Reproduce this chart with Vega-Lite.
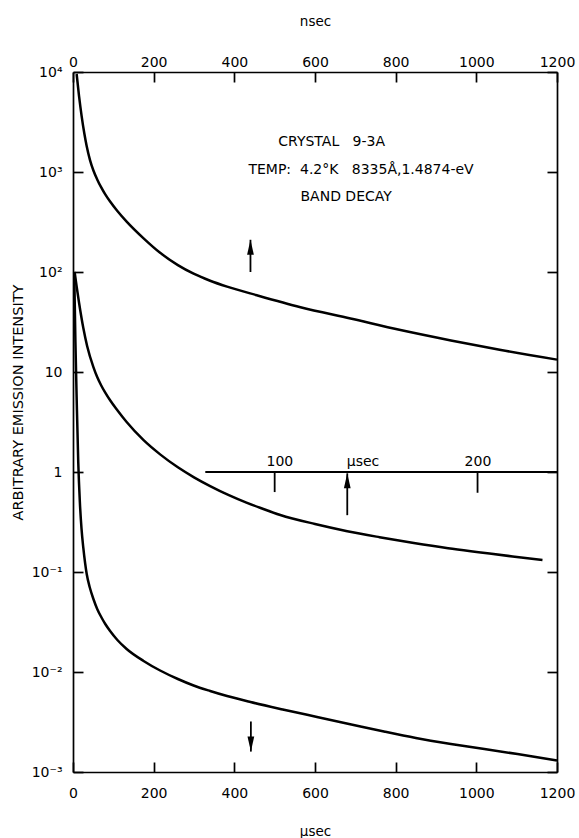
{
  "$schema": "https://vega.github.io/schema/vega-lite/v6.json",
  "autosize": {"type": "none"},
  "padding": {"left": 73, "top": 72, "right": 22, "bottom": 66},
  "width": 484,
  "height": 700,
  "background": "white",
  "config": {
    "view": {"stroke": null},
    "axis": {
      "grid": false,
      "labelFlush": false,
      "labelOverlap": false,
      "domainColor": "black",
      "domainWidth": 1.7,
      "tickColor": "black",
      "tickWidth": 1.7,
      "labelColor": "black",
      "titleColor": "black",
      "labelFont": "DejaVu Sans",
      "titleFont": "DejaVu Sans",
      "labelFontSize": 14,
      "titleFontSize": 13.5,
      "titleFontWeight": "normal"
    },
    "text": {"font": "DejaVu Sans", "fontSize": 14, "color": "black"}
  },
  "datasets": {
    "curves": [
      {"c": "A", "t": 9, "v": 9550}, {"c": "A", "t": 15, "v": 5730}, {"c": "A", "t": 21.5, "v": 3600},
      {"c": "A", "t": 28, "v": 2440}, {"c": "A", "t": 34, "v": 1810}, {"c": "A", "t": 42, "v": 1324},
      {"c": "A", "t": 50.6, "v": 1035}, {"c": "A", "t": 60, "v": 843}, {"c": "A", "t": 70, "v": 701},
      {"c": "A", "t": 80, "v": 597}, {"c": "A", "t": 92, "v": 506}, {"c": "A", "t": 110, "v": 407},
      {"c": "A", "t": 133, "v": 319}, {"c": "A", "t": 175, "v": 217}, {"c": "A", "t": 216, "v": 155.6},
      {"c": "A", "t": 260, "v": 117.2}, {"c": "A", "t": 299, "v": 96.2}, {"c": "A", "t": 340, "v": 81.8},
      {"c": "A", "t": 382, "v": 71.4}, {"c": "A", "t": 456, "v": 58.5}, {"c": "A", "t": 564, "v": 44.5},
      {"c": "A", "t": 688, "v": 34.3}, {"c": "A", "t": 812, "v": 26.3}, {"c": "A", "t": 937, "v": 20.7},
      {"c": "A", "t": 1061, "v": 16.6}, {"c": "A", "t": 1200, "v": 13.3},
      {"c": "B", "t": 4, "v": 100}, {"c": "B", "t": 9, "v": 71.6}, {"c": "B", "t": 15, "v": 49.3},
      {"c": "B", "t": 25.6, "v": 27.5}, {"c": "B", "t": 35, "v": 18.2}, {"c": "B", "t": 50.6, "v": 11.2},
      {"c": "B", "t": 60, "v": 8.91}, {"c": "B", "t": 70, "v": 7.33}, {"c": "B", "t": 80, "v": 6.21},
      {"c": "B", "t": 92, "v": 5.21}, {"c": "B", "t": 110, "v": 4.14}, {"c": "B", "t": 133, "v": 3.16},
      {"c": "B", "t": 175, "v": 2.08}, {"c": "B", "t": 216, "v": 1.5}, {"c": "B", "t": 260, "v": 1.114},
      {"c": "B", "t": 300, "v": 0.885}, {"c": "B", "t": 340, "v": 0.723}, {"c": "B", "t": 385, "v": 0.59},
      {"c": "B", "t": 430, "v": 0.494}, {"c": "B", "t": 465, "v": 0.437}, {"c": "B", "t": 514, "v": 0.372},
      {"c": "B", "t": 600, "v": 0.302}, {"c": "B", "t": 680, "v": 0.256}, {"c": "B", "t": 760, "v": 0.223},
      {"c": "B", "t": 845, "v": 0.195}, {"c": "B", "t": 930, "v": 0.173}, {"c": "B", "t": 1011, "v": 0.157},
      {"c": "B", "t": 1090, "v": 0.143}, {"c": "B", "t": 1164, "v": 0.132},
      {"c": "C", "t": 3, "v": 100}, {"c": "C", "t": 6, "v": 20}, {"c": "C", "t": 9, "v": 5.62},
      {"c": "C", "t": 13, "v": 1.26}, {"c": "C", "t": 17, "v": 0.501}, {"c": "C", "t": 21, "v": 0.275},
      {"c": "C", "t": 25.6, "v": 0.174}, {"c": "C", "t": 30, "v": 0.123}, {"c": "C", "t": 34, "v": 0.0955},
      {"c": "C", "t": 42, "v": 0.0692}, {"c": "C", "t": 50.6, "v": 0.0537}, {"c": "C", "t": 60, "v": 0.0427},
      {"c": "C", "t": 70, "v": 0.0355}, {"c": "C", "t": 80, "v": 0.0302}, {"c": "C", "t": 92, "v": 0.0257},
      {"c": "C", "t": 110, "v": 0.0209}, {"c": "C", "t": 133, "v": 0.017}, {"c": "C", "t": 175, "v": 0.0129},
      {"c": "C", "t": 216, "v": 0.01035}, {"c": "C", "t": 260, "v": 0.00851}, {"c": "C", "t": 299, "v": 0.00733},
      {"c": "C", "t": 340, "v": 0.00646}, {"c": "C", "t": 382, "v": 0.00575}, {"c": "C", "t": 440, "v": 0.00501},
      {"c": "C", "t": 520, "v": 0.00422}, {"c": "C", "t": 605, "v": 0.00355}, {"c": "C", "t": 690, "v": 0.00299},
      {"c": "C", "t": 771, "v": 0.00254}, {"c": "C", "t": 850, "v": 0.00219}, {"c": "C", "t": 937, "v": 0.00191},
      {"c": "C", "t": 1020, "v": 0.0017}, {"c": "C", "t": 1102, "v": 0.00151}, {"c": "C", "t": 1200, "v": 0.0013}
    ],
    "inset": [{"x1": 328, "x2": 1200, "y": 1}],
    "insetTicks": [{"x": 500, "y": 1, "y2": 0.63}, {"x": 1003, "y": 1, "y2": 0.62}],
    "insetLabels": [
      {"x": 513, "y": 1, "label": "100"},
      {"x": 719, "y": 1, "label": "μsec"},
      {"x": 1004, "y": 1, "label": "200"}
    ],
    "arrows": [
      {"x": 440, "y1": 100, "y2": 210, "dir": "up"},
      {"x": 680, "y1": 0.37, "y2": 0.97, "dir": "up"},
      {"x": 441, "y1": 0.0032, "y2": 0.0016, "dir": "down"}
    ],
    "notes": [
      {"x": 509, "y": 2000, "label": "CRYSTAL\u00a0\u00a0 9-3A"},
      {"x": 435, "y": 1050, "label": "TEMP:\u00a0 4.2°K\u00a0\u00a0 8335Å,1.4874-eV"},
      {"x": 564, "y": 560, "label": "BAND DECAY"}
    ]
  },
  "resolve": {"axis": {"x": "independent", "y": "independent"}},
  "layer": [
    {
      "data": {"name": "curves"},
      "mark": {"type": "line", "color": "black", "strokeWidth": 2.5, "interpolate": "monotone"},
      "encoding": {
        "x": {
          "field": "t", "type": "quantitative",
          "scale": {"domain": [0, 1200], "nice": false, "zero": false},
          "axis": {
            "orient": "bottom", "values": [0, 200, 400, 600, 800, 1000, 1200], "format": "d",
            "tickSize": -10, "labelPadding": 24, "title": "μsec", "titlePadding": 24
          }
        },
        "y": {
          "field": "v", "type": "quantitative",
          "scale": {"type": "log", "domain": [0.001, 10000], "nice": false},
          "axis": {
            "orient": "left",
            "values": [0.001, 0.01, 0.1, 1, 10, 100, 1000, 10000],
            "labelExpr": "datum.value > 5000 ? '10⁴' : datum.value > 500 ? '10³' : datum.value > 50 ? '10²' : datum.value > 5 ? '10' : datum.value > 0.5 ? '1' : datum.value > 0.05 ? '10⁻¹' : datum.value > 0.005 ? '10⁻²' : '10⁻³'",
            "tickSize": -10, "labelPadding": 21,
            "title": "ARBITRARY EMISSION INTENSITY",
            "titleFontSize": 14.5,
            "titleX": -55, "titleY": 330, "titleBaseline": "middle"
          }
        },
        "detail": {"field": "c"}
      }
    },
    {
      "data": {"name": "inset"},
      "mark": {"type": "rule", "color": "black", "strokeWidth": 1.8},
      "encoding": {
        "x": {
          "field": "x1", "type": "quantitative",
          "axis": {
            "orient": "top", "values": [0, 200, 400, 600, 800, 1000, 1200], "format": "d",
            "tickSize": -10, "labelPadding": 13, "title": "nsec", "titlePadding": 27
          }
        },
        "x2": {"field": "x2"},
        "y": {
          "field": "y", "type": "quantitative",
          "axis": {
            "orient": "right",
            "values": [0.001, 0.01, 0.1, 1, 10, 100, 1000, 10000],
            "labels": false, "tickSize": -10, "title": null
          }
        }
      }
    },
    {
      "data": {"name": "insetTicks"},
      "mark": {"type": "rule", "color": "black", "strokeWidth": 1.8},
      "encoding": {
        "x": {"field": "x", "type": "quantitative", "axis": null},
        "y": {"field": "y", "type": "quantitative", "axis": null},
        "y2": {"field": "y2"}
      }
    },
    {
      "data": {"name": "insetLabels"},
      "mark": {"type": "text", "baseline": "bottom", "dy": -3, "fontSize": 14},
      "encoding": {
        "x": {"field": "x", "type": "quantitative", "axis": null},
        "y": {"field": "y", "type": "quantitative", "axis": null},
        "text": {"field": "label"}
      }
    },
    {
      "data": {"name": "arrows"},
      "mark": {"type": "rule", "color": "black", "strokeWidth": 1.8},
      "encoding": {
        "x": {"field": "x", "type": "quantitative", "axis": null},
        "y": {"field": "y1", "type": "quantitative", "axis": null},
        "y2": {"field": "y2"}
      }
    },
    {
      "data": {"name": "arrows"},
      "mark": {"type": "point", "filled": true, "color": "black", "opacity": 1, "size": 225},
      "encoding": {
        "x": {"field": "x", "type": "quantitative", "axis": null},
        "y": {"field": "y2", "type": "quantitative", "axis": null},
        "shape": {
          "field": "dir", "type": "nominal", "legend": null,
          "scale": {"domain": ["up", "down"], "range": ["M0,0L0.45,2L-0.45,2Z", "M0,0L0.45,-2L-0.45,-2Z"]}
        }
      }
    },
    {
      "data": {"name": "notes"},
      "mark": {"type": "text", "align": "left", "baseline": "middle"},
      "encoding": {
        "x": {"field": "x", "type": "quantitative", "axis": null},
        "y": {"field": "y", "type": "quantitative", "axis": null},
        "text": {"field": "label"}
      }
    }
  ]
}
